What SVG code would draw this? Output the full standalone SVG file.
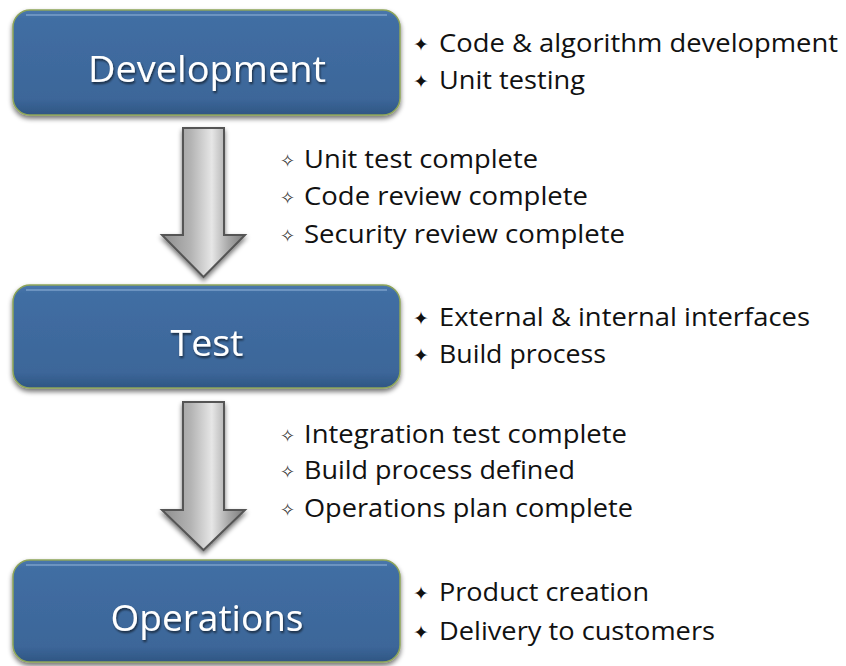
<svg xmlns="http://www.w3.org/2000/svg" width="846" height="666" viewBox="0 0 846 666">
<defs>
<linearGradient id="boxg" x1="0" y1="0" x2="0" y2="1">
<stop offset="0" stop-color="#4a78ad"/>
<stop offset="0.08" stop-color="#416ea3"/>
<stop offset="0.85" stop-color="#3c6699"/>
<stop offset="1" stop-color="#2f5683"/>
</linearGradient>
<linearGradient id="arrg" x1="0" y1="0" x2="1" y2="0">
<stop offset="0" stop-color="#8c8c8c"/>
<stop offset="0.35" stop-color="#b4b4b4"/>
<stop offset="0.6" stop-color="#e6e6e6"/>
<stop offset="0.8" stop-color="#a8a8a8"/>
<stop offset="1" stop-color="#7a7a7a"/>
</linearGradient>
<filter id="sh" x="-10%" y="-10%" width="120%" height="130%">
<feGaussianBlur in="SourceAlpha" stdDeviation="2.5"/>
<feOffset dx="0" dy="3" result="b"/>
<feComponentTransfer><feFuncA type="linear" slope="0.55"/></feComponentTransfer>
<feMerge><feMergeNode/><feMergeNode in="SourceGraphic"/></feMerge>
</filter>
<filter id="tsh" x="-10%" y="-20%" width="120%" height="150%">
<feGaussianBlur in="SourceAlpha" stdDeviation="1.2"/>
<feOffset dx="1" dy="2" result="b"/>
<feComponentTransfer><feFuncA type="linear" slope="0.6"/></feComponentTransfer>
<feMerge><feMergeNode/><feMergeNode in="SourceGraphic"/></feMerge>
</filter>
</defs>
<style>
.box{fill:url(#boxg);stroke:#8ea55a;stroke-width:1.5;filter:url(#sh)}
.hl{fill:none;stroke:#7ea2cc;stroke-width:2;opacity:0.7}
.lbl{font-family:"Open Sans","Noto Sans","Liberation Sans",sans-serif;font-size:36px;fill:#ffffff;text-anchor:middle;filter:url(#tsh)}
.it{font-family:"Open Sans","Noto Sans","Liberation Sans",sans-serif;font-size:25px;fill:#111111}
.b{font-family:"DejaVu Sans",sans-serif;font-size:19px;fill:#111111}
.bh{font-family:"DejaVu Sans",sans-serif;font-size:18px;fill:#333333}
.arr{fill:url(#arrg);stroke:#555555;stroke-width:2;stroke-linejoin:miter;filter:url(#sh)}
</style>
<rect width="846" height="666" fill="#ffffff"/>

<g id="connectors">
<path class="arr" d="M183,128 L224,128 L224,235 L245,235 L203.5,277 L162,235 L183,235 Z"/>
<path class="arr" d="M183,402 L224,402 L224,510 L245,510 L203.5,550 L162,510 L183,510 Z"/>
</g>

<g id="development">
<rect class="box" x="13" y="10" width="387" height="105" rx="17"/>
<path class="hl" d="M26,15 L387,15"/>
<text class="lbl" x="207" y="82" textLength="238" lengthAdjust="spacingAndGlyphs">Development</text>
</g>

<g id="test">
<rect class="box" x="13" y="285" width="387" height="103" rx="17"/>
<path class="hl" d="M26,290 L387,290"/>
<text class="lbl" x="207" y="356" textLength="73" lengthAdjust="spacingAndGlyphs">Test</text>
</g>

<g id="operations">
<rect class="box" x="13" y="560" width="387" height="102" rx="17"/>
<path class="hl" d="M26,565 L387,565"/>
<text class="lbl" x="207" y="631" textLength="193" lengthAdjust="spacingAndGlyphs">Operations</text>
</g>

<g id="dev-notes">
<text class="b" x="413" y="51">✦</text>
<text class="it" x="439" y="52" textLength="399" lengthAdjust="spacingAndGlyphs">Code &amp; algorithm development</text>
<text class="b" x="413" y="88">✦</text>
<text class="it" x="439" y="89" textLength="146" lengthAdjust="spacingAndGlyphs">Unit testing</text>
</g>

<g id="gate1">
<text class="bh" x="280" y="167">✧</text>
<text class="it" x="304" y="168" textLength="234" lengthAdjust="spacingAndGlyphs">Unit test complete</text>
<text class="bh" x="280" y="204">✧</text>
<text class="it" x="304" y="205" textLength="284" lengthAdjust="spacingAndGlyphs">Code review complete</text>
<text class="bh" x="280" y="242">✧</text>
<text class="it" x="304" y="243" textLength="321" lengthAdjust="spacingAndGlyphs">Security review complete</text>
</g>

<g id="test-notes">
<text class="b" x="413" y="325">✦</text>
<text class="it" x="439" y="326" textLength="371" lengthAdjust="spacingAndGlyphs">External &amp; internal interfaces</text>
<text class="b" x="413" y="362">✦</text>
<text class="it" x="439" y="363" textLength="167" lengthAdjust="spacingAndGlyphs">Build process</text>
</g>

<g id="gate2">
<text class="bh" x="280" y="442">✧</text>
<text class="it" x="304" y="443" textLength="323" lengthAdjust="spacingAndGlyphs">Integration test complete</text>
<text class="bh" x="280" y="478">✧</text>
<text class="it" x="304" y="479" textLength="271" lengthAdjust="spacingAndGlyphs">Build process defined</text>
<text class="bh" x="280" y="516">✧</text>
<text class="it" x="304" y="517" textLength="329" lengthAdjust="spacingAndGlyphs">Operations plan complete</text>
</g>

<g id="ops-notes">
<text class="b" x="413" y="600">✦</text>
<text class="it" x="439" y="601" textLength="210" lengthAdjust="spacingAndGlyphs">Product creation</text>
<text class="b" x="413" y="639">✦</text>
<text class="it" x="439" y="640" textLength="276" lengthAdjust="spacingAndGlyphs">Delivery to customers</text>
</g>
</svg>
